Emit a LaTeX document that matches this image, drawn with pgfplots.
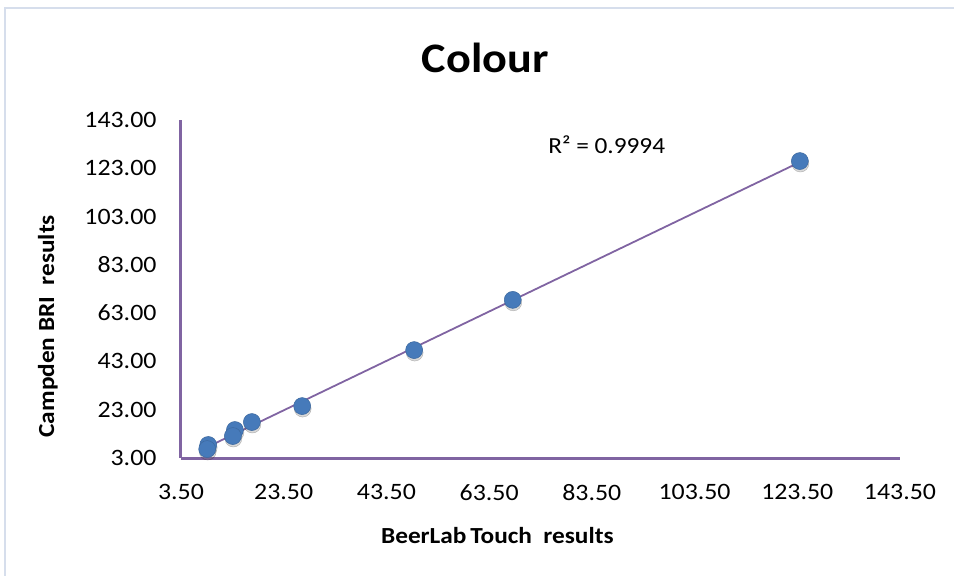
\documentclass[border=0pt]{standalone}
\usepackage{fontspec}
\setmainfont{Carlito}[FakeStretch=1.1]
\usepackage{pgfplots}
\usepackage{pgfplotstable}
\pgfplotsset{compat=1.18}
\definecolor{axispurple}{RGB}{128,100,162}
\definecolor{markblue}{RGB}{70,122,186}
\definecolor{framecol}{RGB}{214,222,236}
\pgfplotstableread{
x y
8.8 8.4
8.6 6.7
14.0 14.6
13.6 12.1
17.3 17.9
27.1 24.5
48.9 47.7
68.1 68.5
124.0 126.0
}\colourdata
\begin{document}
\begin{tikzpicture}
\path[use as bounding box] (0pt,0pt) rectangle (954pt,576pt);
\draw[framecol, line width=1.5pt] (5pt,0pt) -- (5pt,568pt) -- (954pt,568pt);
\begin{axis}[
  at={(181pt,118pt)}, anchor=south west,
  scale only axis, width=719pt, height=338pt,
  xmin=3.5, xmax=143.5, ymin=3, ymax=143,
  xtick={3.5,23.5,...,143.5}, ytick={3,23,...,143},
  axis x line=bottom, axis y line=left,
  axis line style={axispurple, line width=3pt, -},
  major tick length=0pt,
  /pgf/number format/assume math mode=true,
  /pgf/number format/.cd, fixed, fixed zerofill, precision=2, /pgfplots/.cd,
  ticklabel style={font=\fontsize{23.5}{25}\selectfont},
  yticklabel style={anchor=east, xshift=-21pt},
  xticklabel style={anchor=north, yshift=-23pt},
  scaled ticks=false,
  title={\textbf{Colour}},
  title style={font=\fontsize{42}{46}\selectfont, at={(axis description cs:0.423,1.165)}, anchor=center},
  xlabel={\textbf{BeerLab\,Touch\ \ results}},
  ylabel={\textbf{Campden BRI\ \ results}},
  label style={font=\fontsize{23}{25}\selectfont},
  xlabel style={at={(axis description cs:0.44,-0.228)}, anchor=center},
  ylabel style={at={(axis description cs:-0.185,0.39)}, anchor=center, rotate=0},
  clip=false,
]
\addplot[only marks, mark=*, mark size=8.5pt, mark options={fill=black!60, draw=none, opacity=0.25}, xshift=0.5pt, yshift=-2.5pt] table[x=x,y=y] {\colourdata};
\addplot[only marks, mark=*, mark size=8.5pt, mark options={fill=markblue, draw=markblue!85!black, line width=0.5pt}] table[x=x,y=y] {\colourdata};
\addplot[axispurple, line width=1.8pt, no marks] table[x=x, y={create col/linear regression={y=y}}] {\colourdata};
\node[font=\fontsize{23}{25}\selectfont, anchor=center] at (axis cs:86.4,132.7) {R² = 0.9994};
\end{axis}
\end{tikzpicture}
\end{document}
